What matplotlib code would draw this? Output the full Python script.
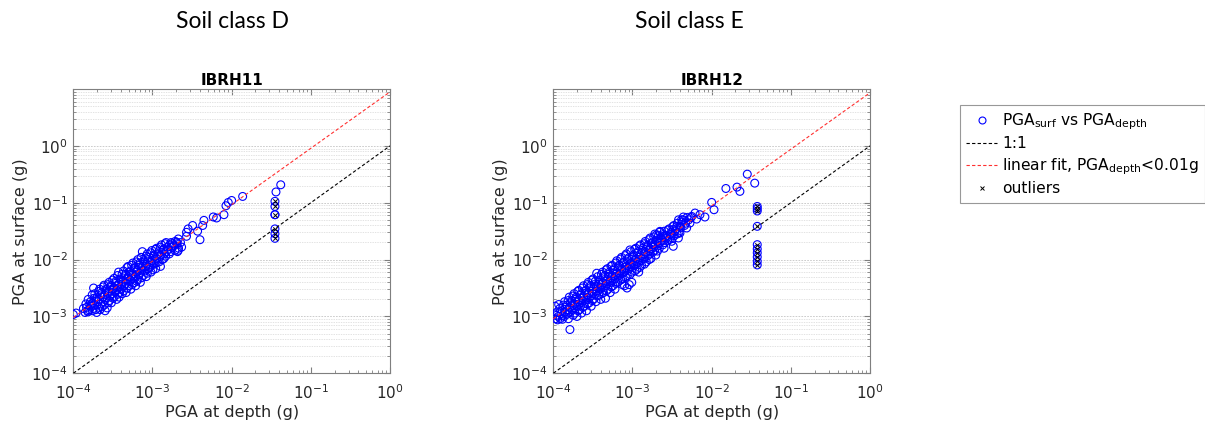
import numpy as np
import matplotlib
matplotlib.use("Agg")
import matplotlib.pyplot as plt
from matplotlib.lines import Line2D
from matplotlib.ticker import LogLocator, NullFormatter

# ---------------- data (log10 of PGA in g) ----------------
panel_titles = ["IBRH11", "IBRH12"]
soil_classes = ["Soil class D", "Soil class E"]

# IBRH11 (soil class D)
ibrh11_depth_log = [
    -4.00, -3.965,
    -3.872, -3.851,
    -3.841, -3.818, -3.833,
    -3.812, -3.789, -3.804, -3.815,
    -3.761, -3.783, -3.774, -3.758,
    -3.744, -3.739, -3.762, -3.747,
    -3.728, -3.709, -3.731, -3.716, -3.705,
    -3.681, -3.702, -3.688, -3.676,
    -3.667, -3.648, -3.673, -3.655, -3.662,
    -3.621, -3.641, -3.628, -3.619, -3.637,
    -3.612, -3.589, -3.604, -3.593, -3.611, -3.598,
    -3.563, -3.581, -3.566, -3.577, -3.558, -3.572,
    -3.548, -3.531, -3.552, -3.536, -3.544,
    -3.503, -3.521, -3.507, -3.514, -3.498, -3.519,
    -3.486, -3.471, -3.492, -3.475, -3.483,
    -3.442, -3.461, -3.447, -3.456, -3.439, -3.453,
    -3.428, -3.411, -3.424, -3.433, -3.415, -3.421,
    -3.384, -3.399, -3.387, -3.395, -3.381,
    -3.366, -3.352, -3.371, -3.357, -3.364,
    -3.322, -3.341, -3.327, -3.336, -3.319, -3.333,
    -3.308, -3.291, -3.304, -3.312, -3.296,
    -3.263, -3.281, -3.267, -3.276, -3.259, -3.273,
    -3.248, -3.232, -3.244, -3.253, -3.236,
    -3.202, -3.221, -3.207, -3.216, -3.199, -3.213,
    -3.186, -3.171, -3.192, -3.176, -3.183,
    -3.143, -3.161, -3.147, -3.156, -3.139, -3.153,
    -3.128, -3.111, -3.124, -3.133, -3.116,
    -3.082, -3.101, -3.087, -3.096, -3.079,
    -3.066, -3.052, -3.071, -3.057, -3.064,
    -3.022, -3.041, -3.027, -3.036, -3.019,
    -3.008, -2.991, -3.004, -3.013, -2.996,
    -2.963, -2.981, -2.967, -2.976, -2.959,
    -2.948, -2.932, -2.944, -2.953,
    -2.902, -2.921, -2.907, -2.916, -2.899,
    -2.886, -2.871, -2.892, -2.876,
    -2.843, -2.861, -2.847, -2.856,
    -2.828, -2.811, -2.824, -2.833,
    -2.782, -2.801, -2.787,
    -2.766, -2.752, -2.771,
    -2.713, -2.731, -2.717,
    -2.688, -2.671, -2.684,
    -2.646, -2.632,
    # sparse
    -2.674, -2.693, -2.757, -2.674,
    -2.35, -2.366, -2.43, -2.40, -2.493, -2.55, -2.57, -2.57,
    -2.097, -2.19, -2.232,
    -2.00, -2.043, -2.072,
    -1.861,
    # outlier column
    -1.38, -1.44, -1.453, -1.453, -1.453, -1.453, -1.453, -1.453, -1.453,
]
ibrh11_surf_log = [
    -2.965, -2.94,
    -2.86, -2.93,
    -2.78, -2.90, -2.84,
    -2.70, -2.80, -2.88, -2.92,
    -2.62, -2.74, -2.82, -2.90,
    -2.50, -2.68, -2.77, -2.86,
    -2.60, -2.70, -2.79, -2.88, -2.93,
    -2.56, -2.66, -2.74, -2.84,
    -2.52, -2.62, -2.70, -2.78, -2.88,
    -2.48, -2.58, -2.66, -2.74, -2.83,
    -2.45, -2.55, -2.62, -2.70, -2.80, -2.90,
    -2.44, -2.52, -2.60, -2.67, -2.76, -2.85,
    -2.40, -2.49, -2.56, -2.64, -2.72,
    -2.36, -2.46, -2.53, -2.60, -2.68, -2.76,
    -2.33, -2.42, -2.50, -2.57, -2.65,
    -2.28, -2.38, -2.46, -2.53, -2.61, -2.70,
    -2.22, -2.34, -2.43, -2.50, -2.58, -2.66,
    -2.26, -2.36, -2.44, -2.52, -2.60,
    -2.20, -2.30, -2.38, -2.46, -2.55,
    -2.14, -2.26, -2.34, -2.42, -2.50, -2.58,
    -2.12, -2.22, -2.30, -2.38, -2.46,
    -2.10, -2.20, -2.28, -2.36, -2.44, -2.52,
    -2.06, -2.16, -2.25, -2.33, -2.41,
    -2.04, -2.14, -2.22, -2.30, -2.38, -2.46,
    -2.00, -2.10, -2.19, -2.27, -2.35,
    -1.96, -2.06, -2.16, -2.24, -2.32, -2.40,
    -1.86, -2.02, -2.12, -2.20, -2.28,
    -1.94, -2.04, -2.12, -2.20, -2.30,
    -1.90, -2.00, -2.08, -2.16, -2.24,
    -1.88, -1.96, -2.05, -2.14, -2.22,
    -1.84, -1.94, -2.02, -2.10, -2.18,
    -1.82, -1.92, -2.00, -2.08, -2.16,
    -1.80, -1.90, -1.98, -2.06,
    -1.78, -1.86, -1.95, -2.04, -2.12,
    -1.74, -1.84, -1.92, -2.00,
    -1.72, -1.82, -1.90, -1.98,
    -1.70, -1.78, -1.86, -1.94,
    -1.74, -1.82, -1.90,
    -1.70, -1.78, -1.86,
    -1.68, -1.76, -1.84,
    -1.72, -1.80, -1.86,
    -1.70, -1.78,
    # sparse
    -1.637, -1.696, -1.72, -1.837,
    -1.31, -1.40, -1.50, -1.65, -1.40, -1.46, -1.52, -1.59,
    -1.21, -1.268, -1.25,
    -0.96, -0.995, -1.053,
    -0.889,
    # outlier column
    -0.684, -0.81, -0.975, -1.065, -1.21, -1.21, -1.46, -1.544, -1.626,
]
ibrh11_out_depth_log = [-1.453, -1.453, -1.453, -1.453, -1.453, -1.453]
ibrh11_out_surf_log = [-0.975, -1.065, -1.21, -1.46, -1.544, -1.626]

# IBRH12 (soil class E)
ibrh12_depth_log = [
    -3.978, -3.961, -3.972,
    -3.932, -3.951, -3.937, -3.946,
    -3.918, -3.902, -3.913,
    -3.871, -3.889, -3.876, -3.885,
    -3.857, -3.842, -3.853, -3.861,
    -3.812, -3.828, -3.816, -3.824, -3.809,
    -3.798, -3.782, -3.793, -3.801, -3.790,
    -3.752, -3.768, -3.756, -3.764, -3.749,
    -3.738, -3.722, -3.733, -3.741, -3.726,
    -3.692, -3.709, -3.696, -3.704, -3.689, -3.701,
    -3.678, -3.662, -3.673, -3.681, -3.666,
    -3.632, -3.649, -3.636, -3.644, -3.629, -3.641,
    -3.618, -3.602, -3.613, -3.621, -3.606,
    -3.572, -3.589, -3.576, -3.584, -3.569, -3.581,
    -3.558, -3.542, -3.553, -3.561, -3.546,
    -3.512, -3.529, -3.516, -3.524, -3.509, -3.521,
    -3.498, -3.482, -3.493, -3.501, -3.486,
    -3.452, -3.469, -3.456, -3.464, -3.449, -3.461,
    -3.438, -3.422, -3.433, -3.441, -3.426,
    -3.392, -3.409, -3.396, -3.404, -3.389, -3.401,
    -3.378, -3.362, -3.373, -3.381, -3.366,
    -3.332, -3.349, -3.336, -3.344, -3.329, -3.341,
    -3.318, -3.302, -3.313, -3.321, -3.306,
    -3.272, -3.289, -3.276, -3.284, -3.269, -3.281,
    -3.258, -3.242, -3.253, -3.261, -3.246,
    -3.212, -3.229, -3.216, -3.224, -3.209, -3.221,
    -3.198, -3.182, -3.193, -3.201, -3.186,
    -3.152, -3.169, -3.156, -3.164, -3.149,
    -3.138, -3.122, -3.133, -3.141, -3.126, -3.129,
    -3.092, -3.109, -3.096, -3.104, -3.089, -3.101,
    -3.078, -3.062, -3.073, -3.081, -3.066, -3.069,
    -3.032, -3.049, -3.036, -3.044, -3.029, -3.041,
    -3.018, -3.002, -3.013, -3.021, -3.006, -3.009,
    -2.972, -2.989, -2.976, -2.984, -2.969,
    -2.958, -2.942, -2.953, -2.961, -2.946,
    -2.912, -2.929, -2.916, -2.924, -2.909, -2.921,
    -2.898, -2.882, -2.893, -2.901, -2.886,
    -2.852, -2.869, -2.856, -2.864, -2.849,
    -2.838, -2.822, -2.833, -2.841, -2.826,
    -2.792, -2.809, -2.796, -2.804, -2.789,
    -2.778, -2.762, -2.773, -2.781, -2.766,
    -2.732, -2.749, -2.736, -2.744,
    -2.718, -2.702, -2.713, -2.721, -2.706,
    -2.672, -2.689, -2.676, -2.684,
    -2.658, -2.642, -2.653, -2.661,
    -2.612, -2.629, -2.616,
    -2.598, -2.582, -2.593, -2.601,
    -2.552, -2.569, -2.556,
    -2.538, -2.522, -2.533,
    -2.492, -2.509, -2.496,
    -2.478, -2.462, -2.473,
    -2.432, -2.449, -2.436,
    -2.418, -2.402, -2.413,
    -2.372, -2.389,
    -2.358, -2.342,
    -2.312, -2.329,
    -2.290,
    -2.260,
    # sparse
    -2.653, -2.694, -2.611, -2.674, -2.568,
    -2.085, -2.148, -2.21, -2.253, -2.19, -2.274, -2.316, -2.358, -2.379,
    -2.442, -2.485, -2.40, -2.42, -2.505, -2.485,
    -2.00, -1.97, -1.82, -1.68, -1.643, -1.55, -1.456,
    # outlier column
    -1.424, -1.424, -1.424, -1.424, -1.424, -1.424, -1.424, -1.424, -1.424, -1.424,
]
ibrh12_surf_log = [
    -2.82, -2.98, -3.04,
    -2.79, -2.92, -3.00, -3.06,
    -2.86, -2.95, -3.04,
    -2.80, -2.90, -2.98, -3.05,
    -2.74, -2.84, -2.92, -3.00,
    -2.72, -2.80, -2.88, -2.96, -3.04,
    -2.66, -2.76, -2.84, -2.93, -3.23,
    -2.64, -2.72, -2.80, -2.88, -2.98,
    -2.60, -2.70, -2.78, -2.86, -2.94,
    -2.56, -2.66, -2.74, -2.82, -2.90, -3.00,
    -2.54, -2.63, -2.71, -2.79, -2.88,
    -2.50, -2.60, -2.68, -2.76, -2.84, -2.94,
    -2.46, -2.56, -2.65, -2.73, -2.82,
    -2.44, -2.54, -2.62, -2.70, -2.78, -2.90,
    -2.40, -2.50, -2.59, -2.67, -2.76,
    -2.36, -2.46, -2.56, -2.64, -2.72, -2.82,
    -2.34, -2.44, -2.52, -2.60, -2.69,
    -2.24, -2.38, -2.48, -2.56, -2.64, -2.74,
    -2.30, -2.40, -2.47, -2.55, -2.63,
    -2.26, -2.36, -2.44, -2.52, -2.60, -2.70,
    -2.22, -2.32, -2.41, -2.49, -2.58,
    -2.18, -2.28, -2.38, -2.46, -2.55, -2.68,
    -2.16, -2.26, -2.35, -2.43, -2.52,
    -2.12, -2.22, -2.32, -2.40, -2.48, -2.58,
    -2.10, -2.19, -2.29, -2.37, -2.46,
    -2.06, -2.16, -2.26, -2.34, -2.42, -2.52,
    -2.02, -2.13, -2.23, -2.31, -2.40,
    -1.99, -2.10, -2.20, -2.28, -2.36,
    -1.96, -2.06, -2.17, -2.25, -2.34, -2.44,
    -1.93, -2.04, -2.14, -2.22, -2.30, -2.46,
    -1.90, -2.00, -2.11, -2.19, -2.28, -2.50,
    -1.83, -1.97, -2.08, -2.16, -2.26, -2.44,
    -1.86, -1.95, -2.05, -2.13, -2.22, -2.40,
    -1.82, -1.92, -2.02, -2.10, -2.20,
    -1.80, -1.89, -1.99, -2.08, -2.17,
    -1.76, -1.86, -1.96, -2.05, -2.14, -2.22,
    -1.74, -1.84, -1.93, -2.02, -2.10,
    -1.72, -1.80, -1.90, -1.99, -2.08,
    -1.68, -1.78, -1.87, -1.96, -2.04,
    -1.65, -1.75, -1.84, -1.93, -2.00,
    -1.62, -1.72, -1.81, -1.90, -1.98,
    -1.60, -1.70, -1.78, -1.87,
    -1.55, -1.66, -1.75, -1.84, -1.92,
    -1.58, -1.68, -1.76, -1.85,
    -1.52, -1.62, -1.70, -1.80,
    -1.56, -1.66, -1.74,
    -1.50, -1.60, -1.70, -1.80,
    -1.48, -1.58, -1.66,
    -1.46, -1.56, -1.64,
    -1.42, -1.52, -1.62,
    -1.40, -1.50, -1.58,
    -1.36, -1.46, -1.55,
    -1.30, -1.42, -1.52,
    -1.34, -1.44,
    -1.30, -1.40,
    -1.26, -1.36,
    -1.30,
    -1.26,
    # sparse
    -1.503, -1.561, -1.591, -1.707, -1.62,
    -1.251, -1.21, -1.181, -1.24, -1.287, -1.357, -1.444, -1.251, -1.298,
    -1.415, -1.474, -1.532, -1.62, -1.678, -1.766,
    -0.994, -1.123, -0.749, -0.725, -0.80, -0.497, -0.655,
    # outlier column
    -1.065, -1.105, -1.145, -1.415, -1.737, -1.813, -1.88, -1.953, -2.03, -2.094,
]
ibrh12_out_depth_log = [-1.424] * 10
ibrh12_out_surf_log = [-1.065, -1.105, -1.145, -1.415, -1.737, -1.813, -1.88, -1.953, -2.03, -2.094]

# linear fit lines (slope, intercept in log10 space), PGA_depth < 0.01 g
fit_slope = [0.992, 0.994]
fit_intercept = [0.95, 0.935]
line_x_range = [1e-4, 1.0]

# ---------------- figure ----------------
W, H = 1205, 428
fig = plt.figure(figsize=(W / 100, H / 100), dpi=100)

ax_left_px = [73.3, 553.3]
ax_w_px = 316.7
ax_top_px, ax_bot_px = 89.3, 373.3
suptitle_cx_px = [232, 689]

depth_sets = [ibrh11_depth_log, ibrh12_depth_log]
surf_sets = [ibrh11_surf_log, ibrh12_surf_log]
out_d = [ibrh11_out_depth_log, ibrh12_out_depth_log]
out_s = [ibrh11_out_surf_log, ibrh12_out_surf_log]

spine_col = "#7f7f7f"
for i in range(2):
    ax = fig.add_axes([ax_left_px[i] / W, 1 - ax_bot_px / H,
                       ax_w_px / W, (ax_bot_px - ax_top_px) / H])
    ax.set_xscale("log")
    ax.set_yscale("log")
    ax.set_xlim(1e-4, 1.0)
    ax.set_ylim(1e-4, 9.9)

    ax.yaxis.set_minor_locator(LogLocator(base=10, subs=np.arange(2, 10), numticks=12))
    ax.xaxis.set_minor_locator(LogLocator(base=10, subs=np.arange(2, 10), numticks=12))
    ax.yaxis.set_minor_formatter(NullFormatter())
    ax.xaxis.set_minor_formatter(NullFormatter())
    ax.set_yticks([1e-4, 1e-3, 1e-2, 1e-1, 1e0])
    ax.set_xticks([1e-4, 1e-3, 1e-2, 1e-1, 1e0])

    ax.grid(True, axis="y", which="major", color="#c4c4c4", linestyle=(0, (2, 1.5)), linewidth=0.6)
    ax.grid(True, axis="y", which="minor", color="#d8d8d8", linestyle=(0, (2, 1.5)), linewidth=0.5)
    ax.set_axisbelow(True)

    for sp in ax.spines.values():
        sp.set_color(spine_col)
        sp.set_linewidth(0.8)
    ax.tick_params(which="both", direction="in", top=True, right=True,
                   colors=spine_col, labelcolor="#262626", labelsize=11)
    ax.tick_params(which="major", length=4)
    ax.tick_params(which="minor", length=2)
    ax.tick_params(axis="x", which="major", pad=7)
    ax.tick_params(axis="y", which="major", pad=4)

    xs = 10.0 ** np.array(depth_sets[i])
    ys = 10.0 ** np.array(surf_sets[i])
    ax.scatter(xs, ys, s=32, facecolors="none", edgecolors="#0000ff",
               linewidths=0.8, zorder=3)

    lx = np.array(line_x_range)
    ax.plot(lx, lx, color="black", linestyle=(0, (3, 2)), linewidth=0.8, zorder=4)
    ax.plot(lx, 10 ** (fit_intercept[i] + fit_slope[i] * np.log10(lx)),
            color="#ff3030", linestyle=(0, (3, 2)), linewidth=0.8, zorder=4)

    ax.scatter(10.0 ** np.array(out_d[i]), 10.0 ** np.array(out_s[i]), marker="x",
               s=10, color="black", linewidths=0.7, zorder=5)

    ax.set_title(panel_titles[i], fontsize=11, fontweight="bold", pad=3)
    ax.set_xlabel("PGA at depth (g)", fontsize=11.5, color="#262626", labelpad=2)
    ax.set_ylabel("PGA at surface (g)", fontsize=11.5, color="#262626", labelpad=2)

    fig.text(suptitle_cx_px[i] / W, 1 - 22 / H, soil_classes[i], ha="center", va="center",
             fontsize=16.5, family="Lato")

# legend
handles = [
    Line2D([], [], marker="o", linestyle="none", markerfacecolor="none",
           markeredgecolor="#0000ff", markersize=5, markeredgewidth=0.8),
    Line2D([], [], color="black", linestyle=(0, (3, 2)), linewidth=0.8),
    Line2D([], [], color="#ff3030", linestyle=(0, (3, 2)), linewidth=0.8),
    Line2D([], [], marker="x", linestyle="none", color="black", markersize=3,
           markeredgewidth=0.7),
]
labels = [
    r"PGA$_{\mathrm{surf}}$ vs PGA$_{\mathrm{depth}}$",
    "1:1",
    r"linear fit, PGA$_{\mathrm{depth}}$<0.01g",
    "outliers",
]
leg = fig.legend(handles, labels, loc="upper left", bbox_to_anchor=(960 / W, 1 - 105 / H),
                 frameon=True, fancybox=False, fontsize=11.2, handlelength=2.0,
                 handletextpad=0.3, borderpad=0.4, labelspacing=0.3,
                 borderaxespad=0)
leg.get_frame().set_edgecolor("#7f7f7f")
leg.get_frame().set_linewidth(0.8)

fig.savefig("out.png", dpi=100)
